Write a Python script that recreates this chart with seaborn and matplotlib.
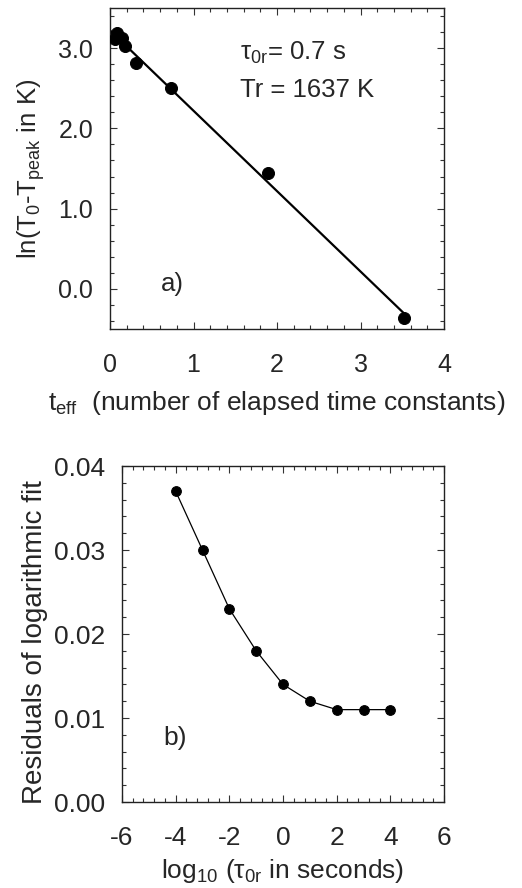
import numpy as np
import pandas as pd
import matplotlib
matplotlib.use("Agg")
import matplotlib.pyplot as plt
import seaborn as sns
from matplotlib.ticker import MultipleLocator

# panel a) data
teff = [0.06, 0.08, 0.14, 0.18, 0.31, 0.73, 1.89, 3.52]
ln_dT = [3.11, 3.19, 3.12, 3.03, 2.82, 2.50, 1.44, -0.36]

# panel b) data
log_tau = [-4, -3, -2, -1, 0, 1, 2, 3, 4]
residuals = [0.037, 0.030, 0.023, 0.018, 0.014, 0.012, 0.011, 0.011, 0.011]

sns.set_style("ticks")
plt.rcParams['font.family'] = ['Liberation Sans', 'DejaVu Sans']
plt.rcParams['mathtext.default'] = 'regular'
plt.rcParams['axes.unicode_minus'] = False

fig = plt.figure(figsize=(5.22, 8.88), dpi=100)

# ---- panel a
ax1 = fig.add_axes([0.2107, 0.6295, 0.64, 0.3615])
dfa = pd.DataFrame({'t': teff, 'y': ln_dT})
slope, icpt = np.polyfit(teff, ln_dT, 1)
xfit = np.array([0.0, max(teff)])
fit = pd.DataFrame({'t': xfit, 'y': icpt + slope * xfit})
sns.lineplot(data=fit, x='t', y='y', ax=ax1, color='black', lw=1.6)
sns.scatterplot(data=dfa, x='t', y='y', ax=ax1, color='black', s=75,
                edgecolor='black', zorder=3)
ax1.set_xlim(0, 4)
ax1.set_ylim(-0.5, 3.5)
ax1.xaxis.set_major_locator(MultipleLocator(1))
ax1.xaxis.set_minor_locator(MultipleLocator(0.2))
ax1.yaxis.set_major_locator(MultipleLocator(1))
ax1.yaxis.set_minor_locator(MultipleLocator(0.2))
ax1.yaxis.set_major_formatter(matplotlib.ticker.FormatStrFormatter('%.1f'))
ax1.set_xlabel('t$_{eff}$  (number of elapsed time constants)', fontsize=19, labelpad=9)
ax1.set_ylabel('ln(T$_0$-T$_{peak}$ in K)', fontsize=18.5, labelpad=8)
ax1.text(1.56, 2.94, 'τ$_{0r}$= 0.7 s', fontsize=18.5, va='center')
ax1.text(1.56, 2.48, 'Tr = 1637 K', fontsize=18.5, va='center')
ax1.text(0.61, 0.06, 'a)', fontsize=18.5, va='center')

# ---- panel b
ax2 = fig.add_axes([0.2337, 0.0968, 0.617, 0.3784])
dfb = pd.DataFrame({'x': log_tau, 'r': residuals})
sns.lineplot(data=dfb, x='x', y='r', ax=ax2, color='black', lw=0.9,
             marker='o', markersize=7, markeredgecolor='black')
ax2.set_xlim(-6, 6)
ax2.set_ylim(0, 0.04)
ax2.xaxis.set_major_locator(MultipleLocator(2))
ax2.xaxis.set_minor_locator(MultipleLocator(0.4))
ax2.yaxis.set_major_locator(MultipleLocator(0.01))
ax2.yaxis.set_minor_locator(MultipleLocator(0.002))
ax2.yaxis.set_major_formatter(matplotlib.ticker.FormatStrFormatter('%.2f'))
ax2.set_xlabel('log$_{10}$ (τ$_{0r}$ in seconds)', fontsize=19, labelpad=5)
ax2.set_ylabel('Residuals of logarithmic fit', fontsize=20)
ax2.yaxis.set_label_coords(-0.23, 0.476)
ax2.text(-4.47, 0.0076, 'b)', fontsize=19, va='center')

for ax, fs, xpad in ((ax1, 18, 17), (ax2, 19, 17)):
    ax.tick_params(which='both', direction='in', top=True, right=True,
                   labelsize=fs, width=0.8, color='#333333')
    ax.tick_params(which='major', length=5)
    ax.tick_params(which='minor', length=3)
    ax.tick_params(axis='x', which='major', pad=xpad)
    ax.tick_params(axis='y', which='major', pad=12)
    for sp in ax.spines.values():
        sp.set_linewidth(1.0)
        sp.set_color('#222222')

fig.savefig('out.png', dpi=100)
